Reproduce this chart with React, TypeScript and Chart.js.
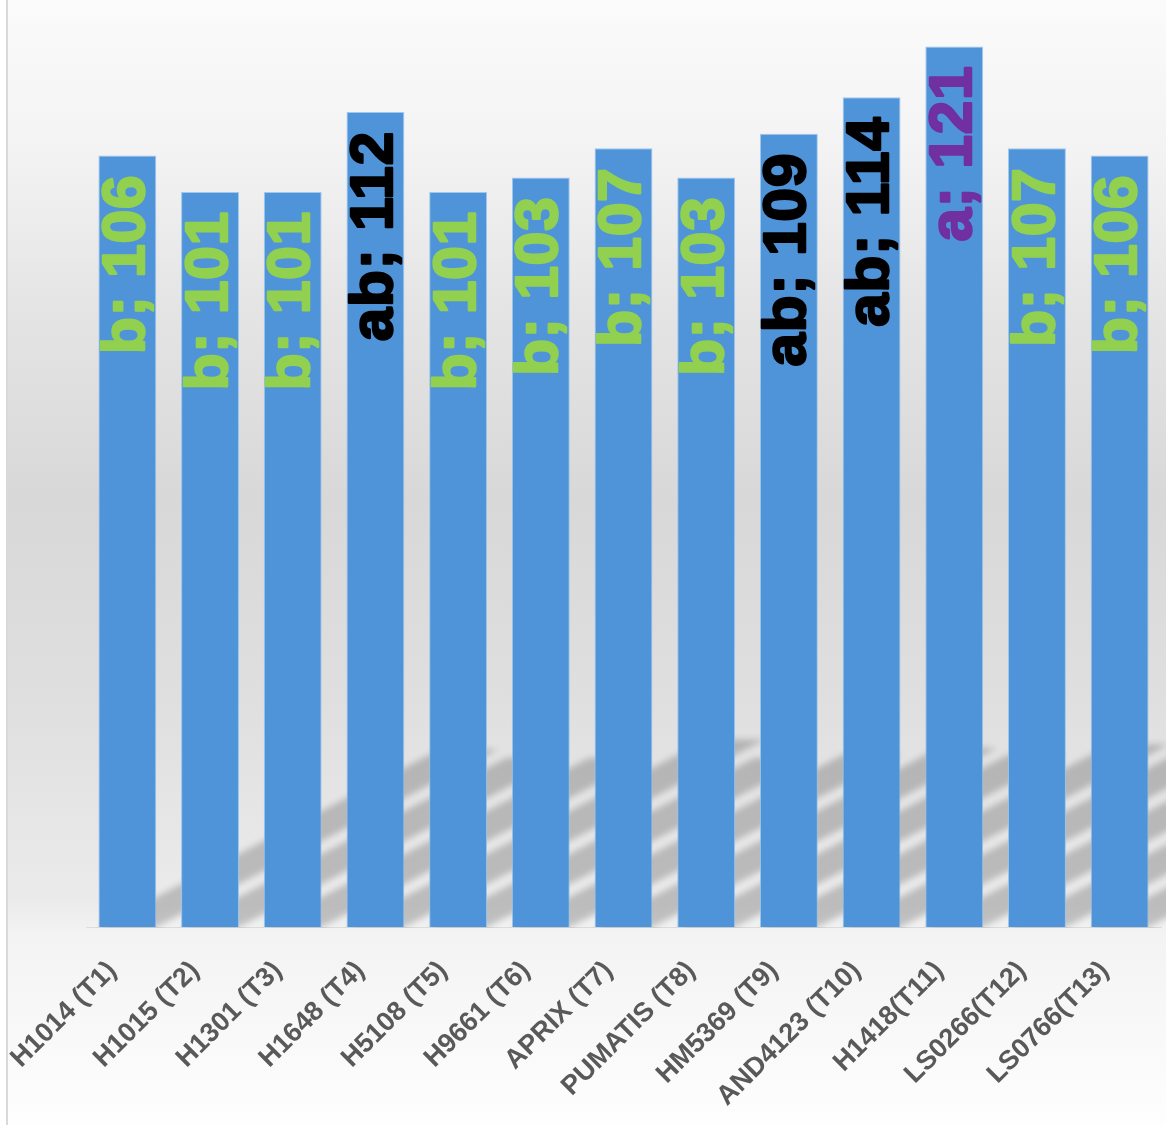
import React, { useEffect, useRef } from "react";
import { Chart, registerables } from "chart.js";

Chart.register(...registerables);

const categories = [
  "H1014 (T1)",
  "H1015 (T2)",
  "H1301 (T3)",
  "H1648 (T4)",
  "H5108 (T5)",
  "H9661 (T6)",
  "APRIX (T7)",
  "PUMATIS (T8)",
  "HM5369 (T9)",
  "AND4123 (T10)",
  "H1418(T11)",
  "LS0266(T12)",
  "LS0766(T13)",
];
const values = [106, 101, 101, 112, 101, 103, 107, 103, 109, 114, 121, 107, 106];
const groups = ["b", "b", "b", "ab", "b", "b", "b", "b", "ab", "ab", "a", "b", "b"];
const groupColors: Record<string, string> = { a: "#7030A0", ab: "#000000", b: "#92D050" };

const W = 1166;
const H = 1125;

const bgPlugin = {
  id: "bgPlugin",
  beforeDraw(chart: any) {
    const ctx = chart.ctx;
    ctx.save();
    ctx.fillStyle = "#ffffff";
    ctx.fillRect(0, 0, W, H);
    const g = ctx.createLinearGradient(0, 0, 0, H);
    const stops: [number, string][] = [
      [0, "#fbfbfb"],
      [150, "#f3f3f3"],
      [300, "#e5e5e5"],
      [500, "#d8d8d8"],
      [700, "#dfdfdf"],
      [900, "#ebebeb"],
      [935, "#f3f3f3"],
      [1125, "#fefefe"],
    ];
    stops.forEach(([y, c]) => g.addColorStop(y / H, c));
    ctx.fillStyle = g;
    ctx.fillRect(8, 0, W - 8, H);
    ctx.fillStyle = "#d9d9d9";
    ctx.fillRect(6, 0, 2, H);
    ctx.restore();
  },
  beforeDatasetsDraw(chart: any) {
    const ctx = chart.ctx;
    const meta = chart.getDatasetMeta(0);
    const area = chart.chartArea;
    ctx.save();
    ctx.beginPath();
    ctx.rect(8, 0, W, area.bottom + 1);
    ctx.clip();
    ctx.filter = "blur(3px)";
    ctx.fillStyle = "rgba(0,0,0,0.2)";
    meta.data.forEach((bar: any) => {
      const p = bar.getProps(["x", "y", "base", "width"], true);
      const h = (p.base - p.y) * 0.23;
      const dx = h / 0.52;
      const l = p.x - p.width / 2;
      const r = p.x + p.width / 2;
      ctx.beginPath();
      ctx.moveTo(l, p.base);
      ctx.lineTo(r, p.base);
      ctx.lineTo(r + dx, p.base - h);
      ctx.lineTo(l + dx, p.base - h);
      ctx.closePath();
      ctx.fill();
    });
    ctx.restore();
  },
  afterDatasetsDraw(chart: any) {
    const ctx = chart.ctx;
    const meta = chart.getDatasetMeta(0);
    ctx.save();
    ctx.font = "bold 60px 'Liberation Sans', Arial, sans-serif";
    (ctx as any).letterSpacing = "1px";
    ctx.textAlign = "right";
    ctx.textBaseline = "middle";
    ctx.lineWidth = 2.5;
    ctx.lineJoin = "round";
    meta.data.forEach((bar: any, i: number) => {
      const p = bar.getProps(["x", "y"], true);
      ctx.save();
      ctx.translate(p.x, p.y + 18);
      ctx.rotate(-Math.PI / 2);
      ctx.fillStyle = groupColors[groups[i]];
      ctx.strokeStyle = groupColors[groups[i]];
      const t = `${groups[i]}; ${values[i]}`;
      ctx.strokeText(t, -1, 0);
      ctx.fillText(t, -1, 0);
      ctx.restore();
    });
    ctx.restore();
  },
};

export default function App() {
  const ref = useRef<HTMLCanvasElement | null>(null);
  useEffect(() => {
    if (!ref.current) return;
    const chart = new Chart(ref.current, {
      type: "bar",
      data: {
        labels: categories,
        datasets: [
          {
            data: values,
            backgroundColor: "#4F94D8",
            borderColor: "rgba(150,195,240,0.9)",
            borderWidth: 1,
            categoryPercentage: 1,
            barPercentage: 0.7,
          },
        ],
      },
      options: {
        animation: false,
        responsive: false,
        maintainAspectRatio: false,
        layout: { padding: { left: 86, right: 5, top: 10, bottom: 0 } },
        plugins: { legend: { display: false }, tooltip: { enabled: false } },
        scales: {
          y: { display: false, min: 0, max: 126 },
          x: {
            grid: { display: false, drawTicks: false },
            border: { display: true, color: "#dcdcdc", width: 1 },
            ticks: {
              autoSkip: false,
              maxRotation: 45,
              minRotation: 45,
              padding: 28,
              labelOffset: -15,
              color: "#595959",
              font: { family: "'Liberation Sans', Arial, sans-serif", size: 27, weight: "bold" },
            },
            afterFit: (s: any) => {
              s.height = H - 927;
              s.paddingLeft = 0;
              s.paddingRight = 0;
            },
          },
        },
      },
      plugins: [bgPlugin],
    } as any);
    return () => chart.destroy();
  }, []);
  return (
    <div style={{ position: "absolute", left: 0, top: 0, width: W, height: H }}>
      <canvas ref={ref} width={W} height={H} style={{ display: "block" }} />
    </div>
  );
}
